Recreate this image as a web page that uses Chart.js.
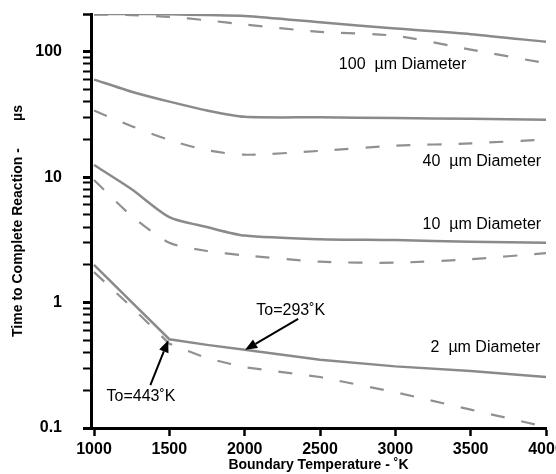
<!DOCTYPE html>
<html>
<head>
<meta charset="utf-8">
<script src="https://cdn.jsdelivr.net/npm/chart.js@4.4.1/dist/chart.umd.min.js"></script>
<style>
  html, body { margin: 0; padding: 0; background: #fff; }
  #wrap { width: 556px; height: 474px; }
</style>
</head>
<body>
<div id="wrap"><canvas id="reactionChart"></canvas></div>
<script>
// boundary temperature (K) and time to complete reaction (µs)
const temps = [1000, 1250, 1500, 1750, 2000, 2500, 3000, 3500, 4000];

const d100Solid = [200, 200, 199, 196, 193, 172, 153, 138, 120];
const d100Dash  = [198, 196, 190, 178, 165, 144, 134, 104, 81];
const d40Solid  = [60, 48, 40, 34, 30.3, 30, 29.6, 29.2, 28.7];
const d40Dash   = [34, 25.5, 19.8, 16.4, 15.1, 16.2, 17.8, 18.6, 20];
const d10Solid  = [12.5, 8.0, 4.8, 4.0, 3.42, 3.2, 3.15, 3.05, 3.0];
const d10Dash   = [9.5, 4.9, 3.0, 2.58, 2.38, 2.12, 2.08, 2.22, 2.48];
const d2Solid   = [2.0, 1.01, 0.51, 0.46, 0.42, 0.35, 0.31, 0.285, 0.255];
const d2Dash    = [1.75, 0.92, 0.47, 0.36, 0.305, 0.255, 0.193, 0.14, 0.102];

const xTicks = [1000, 1500, 2000, 2500, 3000, 3500, 4000];
const yLabels = [0.1, 1, 10, 100];

const FONT = '"Liberation Sans", Arial, Helvetica, sans-serif';
Chart.defaults.font.family = FONT;
Chart.defaults.color = '#000';

function pts(vals) {
    return temps.map((t, i) => ({ x: t, y: vals[i] }));
}

function solid(vals, straight) {
    return {
        data: pts(vals),
        borderColor: '#8a8a8a',
        borderWidth: 2.5,
        pointRadius: 0,
        tension: straight ? 0 : 0.25
    };
}

function dashed(vals, straight) {
    const ds = solid(vals, straight);
    ds.borderDash = [14, 17];
    ds.borderWidth = 2.2;
    ds.borderColor = '#909090';
    return ds;
}

// minor/major ticks for the log axis
const yTickVals = [];
[0.1, 1, 10, 100].forEach(d => {
    for (let m = 1; m <= 9; m++) {
        const v = Number((m * d).toPrecision(3));
        if (v <= 200) yTickVals.push(v);
    }
});
yTickVals.push(200);

// text labels and arrows
const notesPlugin = {
    id: 'notes',
    afterDatasetsDraw(chart) {
        const { ctx, scales: { x, y } } = chart;
        const labels = [
            ['100  µm Diameter', 2625, 79],
            ['40  µm Diameter', 3181, 13.2],
            ['10  µm Diameter', 3181, 4.2],
            ['2  µm Diameter', 3234, 0.434],
            ['To=293˚K', 2077, 0.86],
            ['To=443˚K', 1083, 0.178]
        ];
        ctx.save();
        ctx.font = '16px ' + FONT;
        ctx.fillStyle = '#000';
        ctx.textBaseline = 'middle';
        ctx.textAlign = 'left';
        labels.forEach(([t, tx, ty]) => {
            ctx.fillText(t, x.getPixelForValue(tx), y.getPixelForValue(ty));
        });

        const arrows = [
            [2355, 0.74, 2003, 0.42],
            [1374, 0.22, 1493, 0.5]
        ];
        ctx.strokeStyle = '#000';
        ctx.lineWidth = 2;
        arrows.forEach(([x0, y0, x1, y1]) => {
            const ax = x.getPixelForValue(x0), ay = y.getPixelForValue(y0);
            const bx = x.getPixelForValue(x1), by = y.getPixelForValue(y1);
            const ang = Math.atan2(by - ay, bx - ax);
            const hl = 12, hw = 5;
            const baseX = bx - hl * Math.cos(ang), baseY = by - hl * Math.sin(ang);
            ctx.beginPath();
            ctx.moveTo(ax, ay);
            ctx.lineTo(baseX, baseY);
            ctx.stroke();
            ctx.beginPath();
            ctx.moveTo(bx, by);
            ctx.lineTo(baseX + hw * Math.sin(ang), baseY - hw * Math.cos(ang));
            ctx.lineTo(baseX - hw * Math.sin(ang), baseY + hw * Math.cos(ang));
            ctx.closePath();
            ctx.fillStyle = '#000';
            ctx.fill();
        });
        ctx.restore();
    }
};

new Chart(document.getElementById('reactionChart'), {
    type: 'line',
    data: {
        datasets: [
            solid(d100Solid), dashed(d100Dash),
            solid(d40Solid), dashed(d40Dash),
            solid(d10Solid), dashed(d10Dash),
            solid(d2Solid, true), dashed(d2Dash, true)
        ]
    },
    options: {
        responsive: true,
        maintainAspectRatio: false,
        animation: false,
        devicePixelRatio: 1,
        layout: { padding: { left: 0, right: 10, top: 14, bottom: 0 } },
        plugins: {
            legend: { display: false },
            tooltip: { enabled: false }
        },
        scales: {
            x: {
                type: 'linear',
                min: 980,
                max: 4000,
                afterBuildTicks: scale => {
                    scale.ticks = xTicks.map(v => ({ value: v }));
                },
                afterFit: scale => {
                    scale.height = 46;
                    scale.paddingLeft = 0;
                    scale.paddingRight = 0;
                },
                ticks: {
                    autoSkip: false,
                    maxRotation: 0,
                    padding: 4,
                    font: { size: 16, weight: 'bold' },
                    callback: v => String(v)
                },
                grid: {
                    drawOnChartArea: false,
                    drawTicks: true,
                    tickLength: 8,
                    tickWidth: 2.5,
                    tickColor: '#000'
                },
                border: { display: true, color: '#000', width: 3 },
                title: {
                    display: true,
                    text: 'Boundary Temperature - ˚K',
                    font: { size: 14, weight: 'bold' },
                    padding: { top: 0, bottom: 0 }
                }
            },
            y: {
                type: 'logarithmic',
                min: 0.1,
                max: 200,
                afterBuildTicks: scale => {
                    scale.ticks = yTickVals.map(v => ({ value: v, major: yLabels.includes(v) }));
                },
                afterFit: scale => {
                    scale.width = 91;
                    scale.paddingTop = 0;
                    scale.paddingBottom = 0;
                },
                ticks: {
                    autoSkip: false,
                    padding: 21,
                    font: { size: 16, weight: 'bold' },
                    callback: v => (yLabels.includes(v) ? String(v) : '')
                },
                grid: {
                    drawOnChartArea: false,
                    drawTicks: true,
                    tickLength: 8,
                    tickWidth: c => (c.tick && yLabels.includes(c.tick.value) ? 3 : 2),
                    tickColor: '#000'
                },
                border: { display: true, color: '#000', width: 3 },
                title: {
                    display: true,
                    text: 'Time to Complete Reaction -       µs',
                    font: { size: 14, weight: 'bold' },
                    padding: { top: 10, bottom: 0 }
                }
            }
        }
    },
    plugins: [notesPlugin]
});
</script>
</body>
</html>
